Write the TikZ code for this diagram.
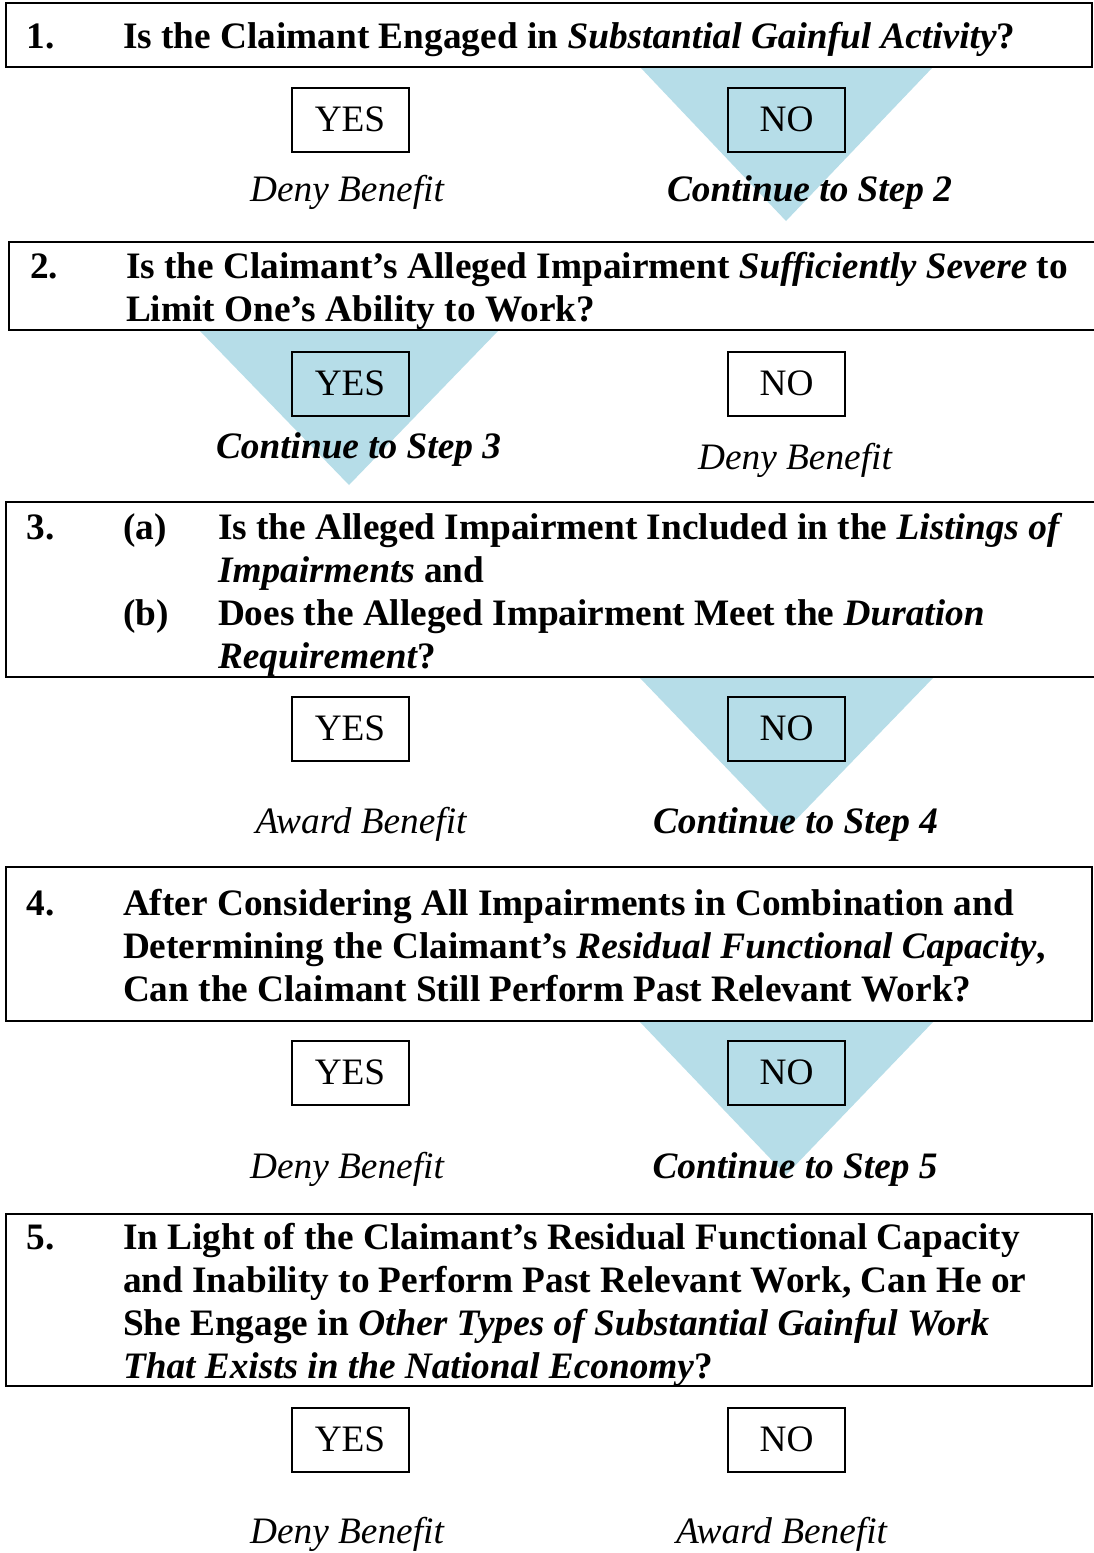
\documentclass[tikz,border=0pt]{standalone}
\usepackage{fontspec}
\setmainfont{Liberation Serif}
\definecolor{triblue}{HTML}{B6DDE8}
\newcommand{\fsz}{\fontsize{37.3}{43}\selectfont}
\begin{document}
\begin{tikzpicture}[x=1pt,y=-1pt,
  every node/.style={inner sep=0pt,outer sep=0pt,font=\fsz},
  qline/.style={anchor=base west,font=\fsz\bfseries},
  qbox/.style={draw=black,line width=2pt},
  ansbox/.style={draw=black,line width=2pt,minimum width=117pt,minimum height=64pt},
  hilite/.style={ansbox,fill=triblue},
  outcome/.style={anchor=base,font=\fsz\itshape},
  goon/.style={anchor=base,font=\fsz\bfseries\itshape},
  tri/.style={fill=triblue}]
\useasboundingbox (0,0) rectangle (1094,1553);
\fill[white] (0,0) rectangle (1094,1553);

% ---------- triangles (behind) ----------
\fill[tri] (640,67) -- (933,67) -- (786,221) -- cycle;
\fill[tri] (200,331) -- (498,331) -- (349,485) -- cycle;
\fill[tri] (640,678) -- (933,678) -- (786,830) -- cycle;
\fill[tri] (640,1022) -- (933,1022) -- (786,1175) -- cycle;

% ---------- Step 1 ----------
\draw[qbox] (6,3) rectangle (1092,67);
\node[qline] (n1) at (27,48) {1.};
\node[qline] (q1) at (123,48) {Is the Claimant Engaged in \textit{Substantial Gainful Activity}?};
\node[ansbox] (y1) at (350,119.5) {YES};
\node[hilite] (no1) at (786.5,119.5) {NO};
\node[outcome] (o1a) at (347,201) {Deny Benefit};
\node[goon] (o1b) at (809.5,201) {Continue to Step 2};

% ---------- Step 2 ----------
\draw[qbox] (1095,242) -- (9,242) -- (9,330) -- (1095,330);
\node[qline] (n2) at (30,278) {2.};
\node[qline] (q2a) at (126,278) {Is the Claimant’s Alleged Impairment \textit{Sufficiently Severe} to};
\node[qline] (q2b) at (126,321) {Limit One’s Ability to Work?};
\node[hilite] (y2) at (350,383.5) {YES};
\node[ansbox] (no2) at (786.5,383.5) {NO};
\node[goon] (o2a) at (358.5,458) {Continue to Step 3};
\node[outcome] (o2b) at (795,469) {Deny Benefit};

% ---------- Step 3 ----------
\draw[qbox] (1095,502) -- (6,502) -- (6,677) -- (1095,677);
\node[qline] (n3) at (27,539) {3.};
\node[qline] (a3) at (123,539) {(a)};
\node[qline] (q3a) at (218,539) {Is the Alleged Impairment Included in the \textit{Listings of}};
\node[qline] (q3b) at (218,582) {\textit{Impairments} and};
\node[qline] (b3) at (123,625) {(b)};
\node[qline] (q3c) at (218,625) {Does the Alleged Impairment Meet the \textit{Duration}};
\node[qline] (q3d) at (218,668) {\textit{Requirement}?};
\node[ansbox] (y3) at (350,728.5) {YES};
\node[hilite] (no3) at (786.5,728.5) {NO};
\node[outcome] (o3a) at (361,833) {Award Benefit};
\node[goon] (o3b) at (795.5,833) {Continue to Step 4};

% ---------- Step 4 ----------
\draw[qbox] (6,867) rectangle (1092,1021);
\node[qline] (n4) at (27,915) {4.};
\node[qline] (q4a) at (123,915) {After Considering All Impairments in Combination and};
\node[qline] (q4b) at (123,958) {Determining the Claimant’s \textit{Residual Functional Capacity},};
\node[qline] (q4c) at (123,1001) {Can the Claimant Still Perform Past Relevant Work?};
\node[ansbox] (y4) at (350,1072.5) {YES};
\node[hilite] (no4) at (786.5,1072.5) {NO};
\node[outcome] (o4a) at (347,1178) {Deny Benefit};
\node[goon] (o4b) at (795,1178) {Continue to Step 5};

% ---------- Step 5 ----------
\draw[qbox] (6,1214) rectangle (1092,1386);
\node[qline] (n5) at (27,1249) {5.};
\node[qline] (q5a) at (123,1249) {In Light of the Claimant’s Residual Functional Capacity};
\node[qline] (q5b) at (123,1292) {and Inability to Perform Past Relevant Work, Can He or};
\node[qline] (q5c) at (123,1335) {She Engage in \textit{Other Types of Substantial Gainful Work}};
\node[qline] (q5d) at (123,1378) {\textit{That Exists in the National Economy}?};
\node[ansbox] (y5) at (350,1439.5) {YES};
\node[ansbox] (no5) at (786.5,1439.5) {NO};
\node[outcome] (o5a) at (347,1543) {Deny Benefit};
\node[outcome] (o5b) at (781.5,1543) {Award Benefit};
\end{tikzpicture}
\end{document}
